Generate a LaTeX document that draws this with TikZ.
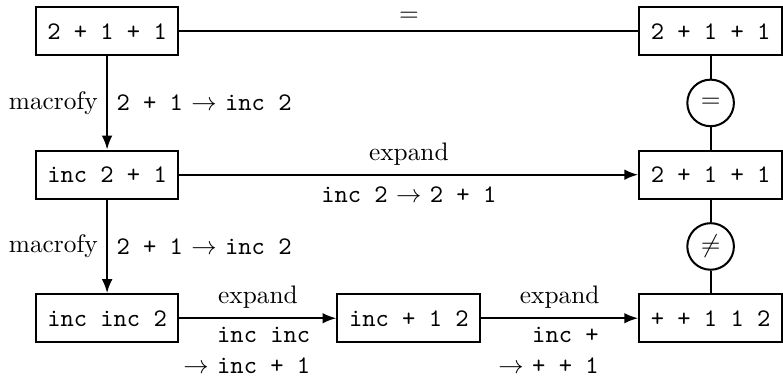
\documentclass[tikz,border=0pt]{standalone}
\usepackage{amsmath}
\usepackage{amssymb}
\usetikzlibrary{arrows.meta, positioning}

\begin{document}
\begin{tikzpicture}[>={Latex[length=5.5pt, width=4.2pt]}, thick, node distance=36.9pt and 62pt,
  term/.style={draw, font=\ttfamily, minimum width=56.4pt, minimum height=19pt},
  rel/.style={draw, circle, fill=white, minimum size=18.4pt, inner sep=0pt}]
  \node[term] (orig) {2 + 1 + 1};
  \node[term, below=of orig] (mac1) {inc 2 + 1};
  \node[term, below=of mac1] (mac2) {inc inc 2};
  \node[term, right=of mac2] (exp1) {inc + 1 2};
  \node[term, right=of exp1] (exp2) {+ + 1 1 2};
  \node[term, above=of exp2] (res1) {2 + 1 + 1};
  \node[term, above=of res1] (res0) {2 + 1 + 1};
  \path (res0) -- node[rel] (eq) {$=$} (res1);
  \path (res1) -- node[rel] (neq) {$\neq$} (exp2);
  \useasboundingbox ([shift={(-42.3pt,12.3pt)}]orig.center) rectangle ++(306.5pt,-148.3pt);

  \draw (orig) -- node[above] {$=$} (res0);
  \draw[->] (orig) -- node[left] {macrofy}
    node[right] {\texttt{2 + 1} $\rightarrow$ \texttt{inc 2}} (mac1);
  \draw[->] (mac1) -- node[above] {expand}
    node[below, yshift=-1pt] {\texttt{inc 2} $\rightarrow$ \texttt{2 + 1}} (res1);
  \draw[->] (mac1) -- node[left] {macrofy}
    node[right] {\texttt{2 + 1} $\rightarrow$ \texttt{inc 2}} (mac2);
  \draw[->] (mac2) -- node[above] {expand}
    node[below, align=right, xshift=-4.4pt] {\texttt{inc inc}\\$\rightarrow$ \texttt{inc + 1}} (exp1);
  \draw[->] (exp1) -- node[above] {expand}
    node[below, align=right, xshift=-4.4pt] {\texttt{inc +}\\$\rightarrow$ \texttt{+ + 1}} (exp2);
  \draw (res0) -- (eq) -- (res1);
  \draw (res1) -- (neq) -- (exp2);
\end{tikzpicture}
\end{document}
